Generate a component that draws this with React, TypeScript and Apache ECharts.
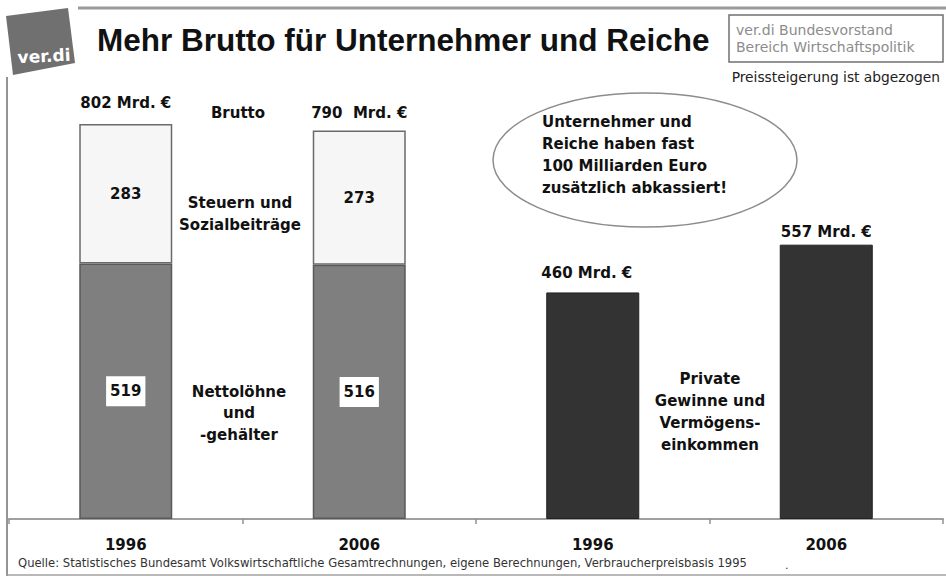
import React, { useEffect, useRef } from "react";
import * as echarts from "echarts";

const years = ["1996", "2006", "1996", "2006"];
const netto = [519, 516, null, null];
const steuern = [283, 273, null, null];
const brutto = [802, 790, null, null];
const privat = [null, null, 460, 557];
const bruttoLabels = ["802 Mrd. €", "790  Mrd. €"];
const privatLabels = ["", "", "460 Mrd. €", "557 Mrd. €"];

const FONT = "'Liberation Sans', Arial, Helvetica, sans-serif";
const WIDE = "'DejaVu Sans', Verdana, sans-serif";

export default function App() {
  const ref = useRef<HTMLDivElement>(null);
  useEffect(() => {
    if (!ref.current) return;
    const chart = echarts.init(ref.current, null, { renderer: "svg" });
    const bold15 = { fontFamily: WIDE, fontWeight: "bold", fontSize: 15, fill: "#111" };
    const labelFont = { fontFamily: WIDE, fontWeight: "bold", fontSize: 15, color: "#111" };
    const bruttoDist = [14, 9];
    const privatDist = [0, 0, 12, 5];
    const privatOffset = [[0, 0], [0, 0], [-6, 0], [0, 0]];
    chart.setOption({
      animation: false,
      backgroundColor: "#ffffff",
      textStyle: { fontFamily: WIDE },
      grid: { left: 9, right: 3, top: 26.5, bottom: 57, containLabel: false },
      xAxis: {
        type: "category",
        data: years.map((y, i) => y + "#" + i),
        axisLine: { lineStyle: { color: "#a0a0a0", width: 2 } },
        axisTick: { show: true, length: 5, lineStyle: { color: "#909090", width: 1.5 } },
        axisLabel: {
          margin: 18,
          ...labelFont,
          formatter: (v: string) => v.split("#")[0],
        },
      },
      yAxis: { type: "value", min: 0, max: 1000, show: false, splitLine: { show: false } },
      series: [
        {
          name: "Nettolöhne und -gehälter",
          type: "bar",
          stack: "a",
          barWidth: 93,
          data: netto,
          itemStyle: { color: "#7f7f7f", borderColor: "#5a5a5a", borderWidth: 1.5 },
          label: {
            show: true,
            position: "inside",
            ...labelFont,
            backgroundColor: "#ffffff",
            padding: [8, 4, 7, 4],
          },
        },
        {
          name: "Steuern und Sozialbeiträge",
          type: "bar",
          stack: "a",
          barWidth: 93,
          data: steuern,
          itemStyle: { color: "#f6f6f6", borderColor: "#6a6a6a", borderWidth: 1.5 },
          label: { show: true, position: "inside", ...labelFont },
        },
        {
          name: "Private Gewinne und Vermögenseinkommen",
          type: "bar",
          stack: "a",
          barWidth: 93,
          data: privat.map((v, i) =>
            v == null ? null : { value: v, label: { distance: privatDist[i], offset: privatOffset[i] } }
          ),
          itemStyle: { color: "#333333", borderColor: "#222222", borderWidth: 1 },
          label: {
            show: true,
            position: "top",
            ...labelFont,
            formatter: (p: any) => privatLabels[p.dataIndex],
          },
        },
        {
          name: "Brutto",
          type: "bar",
          barWidth: 93,
          barGap: "-100%",
          data: brutto.map((v, i) => (v == null ? null : { value: v, label: { distance: bruttoDist[i] } })),
          z: 1,
          itemStyle: { color: "rgba(0,0,0,0)" },
          label: {
            show: true,
            position: "top",
            ...labelFont,
            formatter: (p: any) => bruttoLabels[p.dataIndex],
          },
        },
      ],
      graphic: [
        { type: "polygon", shape: { points: [[6, 16], [68, 8], [75, 63], [13, 75]] }, style: { fill: "#707070" } },
        {
          type: "text",
          x: 44,
          y: 56,
          rotation: 0.05,
          style: { text: "ver.di", fill: "#ffffff", font: `bold 17px ${WIDE}`, align: "center", verticalAlign: "middle" },
        },
        { type: "line", shape: { x1: 78, y1: 8, x2: 946, y2: 8 }, style: { stroke: "#9a9a9a", lineWidth: 3 } },
        {
          type: "text",
          x: 97,
          y: 40,
          style: { text: "Mehr Brutto für Unternehmer und Reiche", fill: "#111", font: `bold 31.5px ${FONT}`, verticalAlign: "middle" },
        },
        { type: "rect", shape: { x: 729, y: 15, width: 214, height: 47 }, style: { fill: "#fff", stroke: "#707070", lineWidth: 1.5 } },
        {
          type: "text",
          x: 736,
          y: 21,
          style: {
            text: "ver.di Bundesvorstand\nBereich Wirtschaftspolitik",
            fill: "#8c8c8c",
            font: `14px ${WIDE}`,
            lineHeight: 17,
          },
        },
        {
          type: "text",
          x: 940,
          y: 77,
          style: { text: "Preissteigerung ist abgezogen", fill: "#222", font: `13.8px ${WIDE}`, align: "right", verticalAlign: "middle" },
        },
        { type: "line", shape: { x1: 7, y1: 77, x2: 7, y2: 576 }, style: { stroke: "#707070", lineWidth: 1.5 } },
        { type: "line", shape: { x1: 7, y1: 575, x2: 946, y2: 575 }, style: { stroke: "#a0a0a0", lineWidth: 1.5 } },
        { type: "ellipse", shape: { cx: 645, cy: 160, rx: 152, ry: 67 }, style: { fill: "none", stroke: "#8c8c8c", lineWidth: 1.5 } },
        {
          type: "text",
          x: 542,
          y: 111,
          style: {
            text: "Unternehmer und\nReiche haben fast\n100 Milliarden Euro\nzusätzlich abkassiert!",
            ...bold15,
            lineHeight: 22,
          },
        },
        { type: "text", x: 238, y: 113, style: { text: "Brutto", ...bold15, align: "center", verticalAlign: "middle" } },
        {
          type: "text",
          x: 240,
          y: 214,
          style: { text: "Steuern und\nSozialbeiträge", ...bold15, lineHeight: 22, align: "center", verticalAlign: "middle" },
        },
        {
          type: "text",
          x: 239,
          y: 413,
          style: { text: "Nettolöhne\nund\n-gehälter", ...bold15, lineHeight: 21.5, align: "center", verticalAlign: "middle" },
        },
        {
          type: "text",
          x: 710,
          y: 412,
          style: { text: "Private\nGewinne und\nVermögens-\neinkommen", ...bold15, lineHeight: 21.7, align: "center", verticalAlign: "middle" },
        },
        {
          type: "text",
          x: 18,
          y: 563,
          style: {
            text: "Quelle: Statistisches Bundesamt Volkswirtschaftliche Gesamtrechnungen, eigene Berechnungen, Verbraucherpreisbasis 1995",
            fill: "#333",
            font: `11.6px ${WIDE}`,
            verticalAlign: "middle",
          },
        },
        { type: "text", x: 785, y: 565, style: { text: ".", fill: "#333", font: `11px ${WIDE}`, verticalAlign: "middle" } },
      ],
    });
    return () => chart.dispose();
  }, []);
  return <div ref={ref} style={{ position: "absolute", left: 0, top: 0, width: 946, height: 576 }} />;
}
